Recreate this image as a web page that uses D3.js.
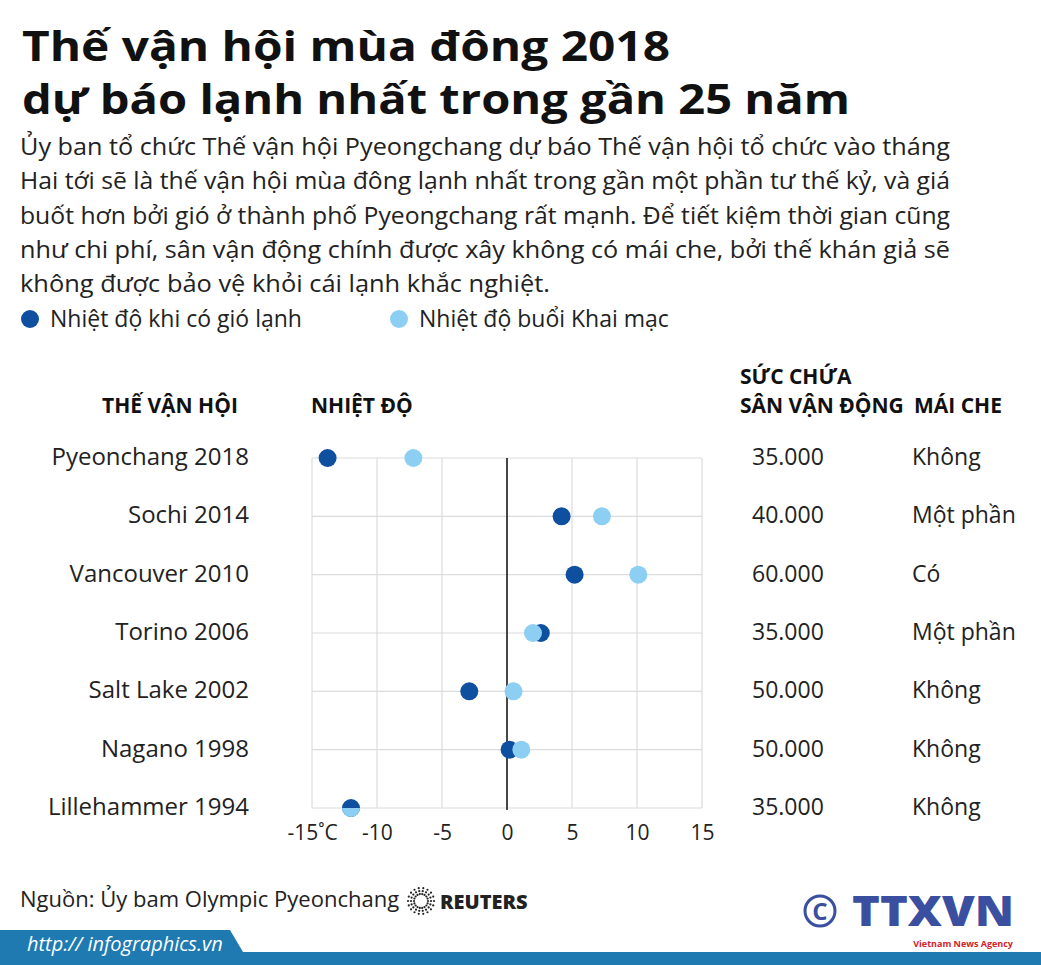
<!DOCTYPE html>
<html><head><meta charset="utf-8">
<script src="https://cdn.jsdelivr.net/npm/d3@7"></script>
<style>body{margin:0;background:#fff}svg{display:block}text{font-family:"Open Sans","Noto Sans",sans-serif}</style>
</head><body>
<script>
const games=["Pyeonchang 2018","Sochi 2014","Vancouver 2010","Torino 2006","Salt Lake 2002","Nagano 1998","Lillehammer 1994"];
const windChill=[-13.8,4.2,5.2,2.6,-2.9,0.2,-12];
const opening=[-7.2,7.3,10.1,2.0,0.5,1.1,-12];
const capacity=["35.000","40.000","60.000","35.000","50.000","50.000","35.000"];
const roof=["Không","Một phần","Có","Một phần","Không","Không","Không"];
const xTicks=[-15,-10,-5,0,5,10,15];
const xTickLabels=["-15˚C","-10","-5","0","5","10","15"];
const dark="#0e4f9f", light="#8ccff2";
const W=1041,H=965;
const svg=d3.select("body").append("svg").attr("width",W).attr("height",H);
[["Thế vận hội mùa đông 2018",61],["dự báo lạnh nhất trong gần 25 năm",114]].forEach(([t,y])=>
 svg.append("text").attr("x",22).attr("y",y).attr("font-size",41).attr("font-weight",700).attr("fill","#111").attr("textLength",t.length>30?828:648).attr("lengthAdjust","spacingAndGlyphs").text(t));
const body=["Ủy ban tổ chức Thế vận hội Pyeongchang dự báo Thế vận hội tổ chức vào tháng",
"Hai tới sẽ là thế vận hội mùa đông lạnh nhất trong gần một phần tư thế kỷ, và giá",
"buốt hơn bởi gió ở thành phố Pyeongchang rất mạnh. Để tiết kiệm thời gian cũng",
"như chi phí, sân vận động chính được xây không có mái che, bởi thế khán giả sẽ",
"không được bảo vệ khỏi cái lạnh khắc nghiệt."];
const bw=[930,930,930,930,530];
body.forEach((t,i)=>svg.append("text").attr("x",20).attr("y",155+i*34.3).attr("font-size",23).attr("fill","#222")
 .attr("textLength",bw[i]).attr("lengthAdjust","spacingAndGlyphs").text(t));
[[dark,30,"Nhiệt độ khi có gió lạnh"],[light,399,"Nhiệt độ buổi Khai mạc"]].forEach(([c,x,t])=>{
 svg.append("circle").attr("cx",x).attr("cy",319).attr("r",9).attr("fill",c);
 svg.append("text").attr("x",x+20).attr("y",327).attr("font-size",23).attr("fill","#222").text(t);});
const hdr=(t,x,y)=>svg.append("text").attr("x",x).attr("y",y).attr("font-size",21).attr("font-weight",700).attr("fill","#111").text(t);
hdr("THẾ VẬN HỘI",102,413);hdr("NHIỆT ĐỘ",311,413);hdr("SỨC CHỨA",740,384);hdr("SÂN VẬN ĐỘNG",740,413);hdr("MÁI CHE",914,413);
const x=d3.scaleLinear().domain([-15,15]).range([312,702]);
const y=d3.scalePoint().domain(games).range([458,808]);
const g=svg.append("g");
g.selectAll(".v").data(xTicks).join("line").attr("x1",d=>x(d)).attr("x2",d=>x(d)).attr("y1",458).attr("y2",808).attr("stroke","#dcdcdc").attr("stroke-width",1.2);
g.selectAll(".h").data(games).join("line").attr("x1",x(-15)).attr("x2",x(15)).attr("y1",d=>y(d)).attr("y2",d=>y(d)).attr("stroke","#dcdcdc").attr("stroke-width",1.2);
g.append("line").attr("x1",x(0)).attr("x2",x(0)).attr("y1",458).attr("y2",810).attr("stroke","#111").attr("stroke-width",1.5);
const xa=svg.append("g").attr("transform","translate(0,808)").call(d3.axisBottom(x).tickValues(xTicks).tickSize(0).tickPadding(17).tickFormat((d,i)=>xTickLabels[i]));
xa.select(".domain").remove();
xa.selectAll("text").attr("font-size",21).attr("fill","#222").style("font-family",'"Open Sans",sans-serif');
games.forEach((gm,i)=>{
 const yy=y(gm);
 svg.append("text").attr("x",249).attr("y",yy+7).attr("text-anchor","end").attr("font-size",24).attr("fill","#222").text(gm);
 svg.append("text").attr("x",752).attr("y",yy+7).attr("font-size",23).attr("fill","#222").text(capacity[i]);
 svg.append("text").attr("x",912).attr("y",yy+7).attr("font-size",23).attr("fill","#222").text(roof[i]);
 svg.append("circle").attr("cx",x(windChill[i])).attr("cy",yy).attr("r",9).attr("fill",dark);
 if(i===games.length-1){
  svg.append("clipPath").attr("id","half").append("rect").attr("x",0).attr("y",yy).attr("width",W).attr("height",20);
  svg.append("circle").attr("cx",x(opening[i])).attr("cy",yy).attr("r",9).attr("fill",light).attr("clip-path","url(#half)");
 } else svg.append("circle").attr("cx",x(opening[i])).attr("cy",yy).attr("r",9).attr("fill",light);
});
svg.append("text").attr("x",20).attr("y",907).attr("font-size",22).attr("fill","#222").text("Nguồn: Ủy bam Olympic Pyeonchang");
const rc=svg.append("g").attr("transform","translate(421,901)");
d3.range(0,360,20).forEach(a=>[7,10,13].forEach(r=>rc.append("circle").attr("cx",r*Math.cos(a*Math.PI/180)).attr("cy",r*Math.sin(a*Math.PI/180)).attr("r",1.1).attr("fill","#222")));
svg.append("text").attr("x",440).attr("y",909).attr("font-size",20).attr("font-weight",800).attr("fill","#222").text("REUTERS");
svg.append("circle").attr("cx",820).attr("cy",911).attr("r",15).attr("fill","none").attr("stroke","#3a4fa0").attr("stroke-width",3);
svg.append("text").attr("x",820).attr("y",920).attr("text-anchor","middle").attr("font-size",24).attr("font-weight",700).attr("fill","#3a4fa0").text("C");
svg.append("text").attr("x",852).attr("y",926).attr("font-size",43).attr("font-weight",900).attr("fill","#3a4fa0").attr("textLength",162).attr("lengthAdjust","spacingAndGlyphs").text("TTXVN");
svg.append("text").attr("x",1013).attr("y",947).attr("text-anchor","end").attr("font-size",9).attr("font-weight",700).attr("fill","#d2232a").text("Vietnam News Agency");
svg.append("rect").attr("x",0).attr("y",952).attr("width",W).attr("height",13).attr("fill","#1e7ab0");
svg.append("path").attr("d","M0,930 L230,930 L243,952 L0,952Z").attr("fill","#1e7ab0");
svg.append("text").attr("x",27).attr("y",951).attr("font-size",20).attr("font-style","italic").attr("fill","#fff").text("http:// infographics.vn");
</script>
</body></html>
